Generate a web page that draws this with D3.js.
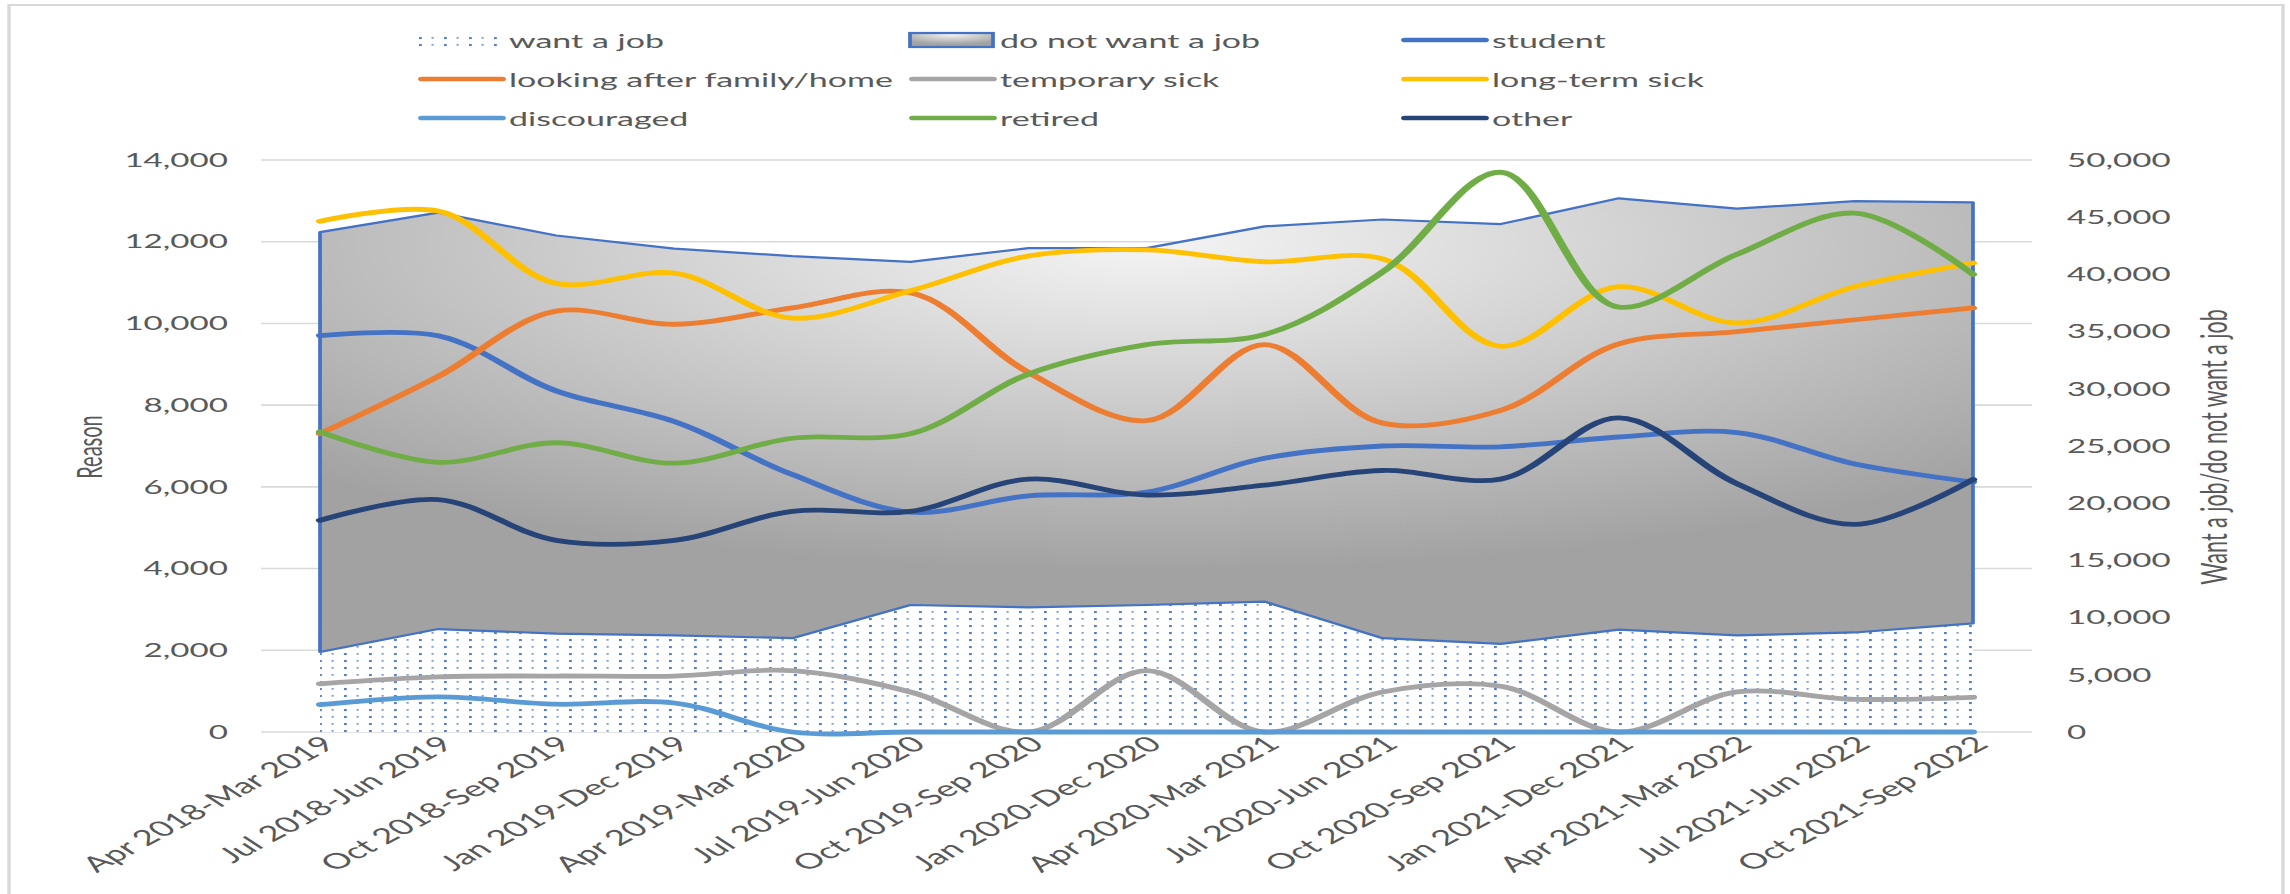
<!DOCTYPE html>
<html>
<head>
<meta charset="utf-8">
<script src="https://d3js.org/d3.v7.min.js"></script>
<style>
  html, body { margin: 0; padding: 0; background: #ffffff; overflow: hidden; }
  svg { display: block; }
</style>
</head>
<body>
<svg id="chart"></svg>
<script>
// Rolling 12-month reporting periods
const categories = [
  "Apr 2018-Mar 2019", "Jul 2018-Jun 2019", "Oct 2018-Sep 2019", "Jan 2019-Dec 2019",
  "Apr 2019-Mar 2020", "Jul 2019-Jun 2020", "Oct 2019-Sep 2020", "Jan 2020-Dec 2020",
  "Apr 2020-Mar 2021", "Jul 2020-Jun 2021", "Oct 2020-Sep 2021", "Jan 2021-Dec 2021",
  "Apr 2021-Mar 2022", "Jul 2021-Jun 2022", "Oct 2021-Sep 2022"
];

// Secondary axis: stacked areas
const wantJob      = [7000, 9000, 8600, 8450, 8200, 11100, 10900, 11100, 11400, 8200, 7700, 8950, 8450, 8700, 9500];
const doNotWantJob = [36700, 36400, 34800, 33800, 33400, 30000, 31400, 31200, 32800, 36600, 36700, 37700, 37300, 37700, 36800];

// Primary axis: main reason for inactivity
const student      = [9700, 9700, 8350, 7600, 6300, 5380, 5780, 5870, 6700, 7000, 6980, 7220, 7330, 6560, 6120];
const family       = [7300, 8700, 10300, 9980, 10380, 10750, 8800, 7620, 9480, 7560, 7870, 9500, 9800, 10090, 10380];
const tempSick     = [1180, 1350, 1370, 1370, 1500, 980, 0, 1500, 0, 980, 1120, 0, 980, 800, 850];
const longTermSick = [12500, 12750, 10980, 11230, 10130, 10800, 11650, 11800, 11510, 11580, 9440, 10900, 10010, 10900, 11480];
const discouraged  = [670, 860, 680, 710, 0, 0, 0, 0, 0, 0, 0, 0, 0, 0, 0];
const retired      = [7350, 6600, 7080, 6580, 7190, 7300, 8760, 9480, 9730, 11260, 13700, 10400, 11690, 12700, 11200];
const other        = [5180, 5690, 4690, 4690, 5400, 5400, 6190, 5800, 6040, 6400, 6190, 7690, 6080, 5080, 6180];

const leftTicks  = [0, 2000, 4000, 6000, 8000, 10000, 12000, 14000];
const rightTicks = [0, 5000, 10000, 15000, 20000, 25000, 30000, 35000, 40000, 45000, 50000];

const lineSeries = [
  { key: "student",      label: "student",                   values: student },
  { key: "family",       label: "looking after family/home", values: family },
  { key: "tempSick",     label: "temporary sick",            values: tempSick },
  { key: "longTermSick", label: "long-term sick",            values: longTermSick },
  { key: "discouraged",  label: "discouraged",               values: discouraged },
  { key: "retired",      label: "retired",                   values: retired },
  { key: "other",        label: "other",                     values: other }
];

const colors = {
  student: "#4472C4", family: "#ED7D31", tempSick: "#A5A5A5", longTermSick: "#FFC000",
  discouraged: "#5B9BD5", retired: "#70AD47", other: "#264478"
};

// ---- layout ----------------------------------------------------------
const W = 2290, H = 894;
const SX = 1.7;                 // drawing is laid out narrow, then stretched across the page
const W0 = W / SX;
const X = px => px / SX;        // page x position -> drawing units
const FONT = "Lato, 'Open Sans', sans-serif";
const TEXT = "#595959";

const svg = d3.select("#chart")
  .attr("width", W).attr("height", H)
  .attr("viewBox", `0 0 ${W0} ${H}`)
  .attr("preserveAspectRatio", "none");

const plot = { left: X(261), right: X(2032), top: 160, bottom: 732 };

const x  = d3.scaleBand().domain(categories).range([plot.left, plot.right]);
const xc = c => x(c) + x.bandwidth() / 2;
const yL = d3.scaleLinear().domain([0, 14000]).range([plot.bottom, plot.top]);
const yR = d3.scaleLinear().domain([0, 50000]).range([plot.bottom, plot.top]);

// ---- paint definitions ----------------------------------------------
const defs = svg.append("defs");

const grad = defs.append("radialGradient")
  .attr("id", "greyFill").attr("cx", 0.5).attr("cy", 0.1).attr("r", 0.72);
grad.append("stop").attr("offset", 0).attr("stop-color", "#f4f4f4");
grad.append("stop").attr("offset", 1).attr("stop-color", "#a2a2a2");

const tileW = X(25), tileH = 7;
const dots = defs.append("pattern")
  .attr("id", "dots").attr("patternUnits", "userSpaceOnUse")
  .attr("x", X(319)).attr("y", 2).attr("width", tileW).attr("height", tileH);
dots.append("rect").attr("width", tileW).attr("height", tileH).attr("fill", "#ffffff");
dots.append("rect").attr("x", 0).attr("y", 0).attr("width", X(2.8)).attr("height", 2.1)
  .attr("fill", "#4472C4").attr("opacity", 0.9);
dots.append("rect").attr("x", X(12.5)).attr("y", 0).attr("width", X(2.2)).attr("height", 1.7)
  .attr("fill", "#4472C4").attr("opacity", 0.7);

// ---- chart frame ------------------------------------------------------
svg.append("rect")
  .attr("x", X(9)).attr("y", 5).attr("width", X(2283 - 9)).attr("height", H + 20)
  .attr("fill", "#ffffff").attr("stroke", "#d9d9d9").attr("stroke-width", 2);

// ---- gridlines ---------------------------------------------------------
svg.append("g").selectAll("line").data(leftTicks).join("line")
  .attr("x1", plot.left).attr("x2", plot.right)
  .attr("y1", d => yL(d)).attr("y2", d => yL(d))
  .attr("stroke", "#d9d9d9").attr("stroke-width", 1.6);

// ---- stacked areas (secondary axis) -----------------------------------
const stackRows = categories.map((c, i) => ({ cat: c, want: wantJob[i], notWant: doNotWantJob[i] }));
const stacked = d3.stack().keys(["want", "notWant"])(stackRows);
const area = d3.area()
  .x(d => xc(d.data.cat))
  .y0(d => yR(d[0]))
  .y1(d => yR(d[1]));

svg.append("path").datum(stacked[0]).attr("d", area).attr("fill", "url(#dots)");
svg.append("path").datum(stacked[1]).attr("d", area)
  .attr("fill", "url(#greyFill)")
  .attr("stroke", "#4472C4").attr("stroke-width", 2.2).attr("stroke-linejoin", "round");

// ---- reason lines (primary axis) --------------------------------------
const line = d3.line()
  .x((d, i) => xc(categories[i]))
  .y(d => yL(d))
  .curve(d3.curveCatmullRom.alpha(0.5));

svg.append("g").selectAll("path").data(lineSeries).join("path")
  .attr("d", s => line(s.values))
  .attr("fill", "none")
  .attr("stroke", s => colors[s.key])
  .attr("stroke-width", 4.8)
  .attr("stroke-linecap", "round")
  .attr("stroke-linejoin", "round");

// ---- axes ---------------------------------------------------------------
const fmt = d3.format(",");

const axL = svg.append("g").attr("transform", `translate(${plot.left},0)`)
  .call(d3.axisLeft(yL).tickValues(leftTicks).tickSize(0).tickPadding(X(33)).tickFormat(fmt));
axL.select(".domain").remove();
axL.selectAll("text").attr("fill", TEXT).style("font-family", FONT).style("font-size", "19.5px");

const axR = svg.append("g").attr("transform", `translate(${plot.right},0)`)
  .call(d3.axisRight(yR).tickValues(rightTicks).tickSize(0).tickPadding(X(35)).tickFormat(fmt));
axR.select(".domain").remove();
axR.selectAll("text").attr("fill", TEXT).style("font-family", FONT).style("font-size", "19.5px");

svg.append("g").selectAll("text").data(categories).join("text")
  .attr("transform", c => `translate(${xc(c) + X(17)},746) rotate(-42)`)
  .attr("text-anchor", "end")
  .attr("fill", TEXT)
  .style("font-family", FONT).style("font-size", "21.5px")
  .text(c => c);

svg.append("text")
  .attr("transform", `translate(${X(89)},447) rotate(-90)`)
  .attr("text-anchor", "middle").attr("dominant-baseline", "central")
  .attr("fill", TEXT).style("font-family", FONT).style("font-size", "20px")
  .text("Reason");

svg.append("text")
  .attr("transform", `translate(${X(2212)},447) rotate(-90)`)
  .attr("text-anchor", "middle").attr("dominant-baseline", "central")
  .attr("fill", TEXT).style("font-family", FONT).style("font-size", "21.5px")
  .text("Want a job/do not want a job");

// ---- legend ---------------------------------------------------------------
const legendItems = [
  { label: "want a job", kind: "dots" },
  { label: "do not want a job", kind: "grad" },
  ...lineSeries.map(s => ({ label: s.label, kind: "line", key: s.key }))
];
const rowY = [40, 79, 118];
const colSwatch = [419, 910, 1402];
const colText = [509, 1000, 1492];

const leg = svg.append("g");
legendItems.forEach((it, i) => {
  const r = Math.floor(i / 3), c = i % 3;
  const y = rowY[r];
  const g = leg.append("g");
  if (it.kind === "dots") {
    g.append("rect").attr("x", X(colSwatch[c])).attr("y", y - 8)
      .attr("width", X(78)).attr("height", 15).attr("fill", "url(#dots)");
  } else if (it.kind === "grad") {
    g.append("rect").attr("x", X(colSwatch[c])).attr("y", y - 7)
      .attr("width", X(83)).attr("height", 14)
      .attr("fill", "url(#greyFill)").attr("stroke", "#4472C4").attr("stroke-width", 2.2);
  } else {
    g.append("line")
      .attr("x1", X(colSwatch[c] + 3)).attr("x2", X(colSwatch[c] + 83))
      .attr("y1", y).attr("y2", y)
      .attr("stroke", colors[it.key]).attr("stroke-width", 4.6).attr("stroke-linecap", "round");
  }
  g.append("text")
    .attr("x", X(colText[c])).attr("y", y)
    .attr("dominant-baseline", "central")
    .attr("fill", TEXT).style("font-family", FONT).style("font-size", "20px")
    .text(it.label);
});
</script>
</body>
</html>
